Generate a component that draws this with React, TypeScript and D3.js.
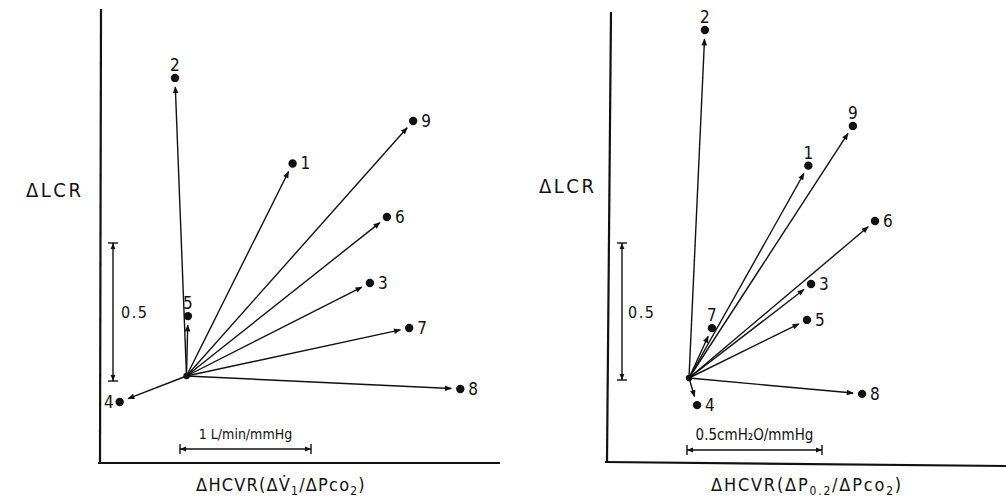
import React from "react";
import * as d3 from "d3";

// ---- Data ----
const subjects = ["1", "2", "3", "4", "5", "6", "7", "8", "9"];
// Left panel: ΔHCVR (ΔV̇1/ΔPco2, L/min/mmHg) vs ΔLCR
const leftHCVR = [0.81, -0.088, 1.4, -0.51, 0.011, 1.53, 1.7, 2.09, 1.73];
const leftLCR = [0.77, 1.08, 0.337, -0.094, 0.217, 0.576, 0.174, -0.047, 0.924];
// Right panel: ΔHCVR (ΔP0.2/ΔPco2, cmH2O/mmHg) vs ΔLCR
const rightHCVR = [0.442, 0.059, 0.452, 0.03, 0.437, 0.689, 0.085, 0.641, 0.607];
const rightLCR = [0.775, 1.27, 0.343, -0.099, 0.212, 0.573, 0.182, -0.058, 0.92];
// where each subject's number sits relative to its dot
const leftLabelSide = ["right", "above", "right", "left", "above", "right", "right", "right", "right"];
const rightLabelSide = ["above", "above", "right", "right", "right", "right", "above", "right", "above"];
// scale bars
const leftScaleX = { value: 1, label: "1 L/min/mmHg" };
const rightScaleX = { value: 0.5, label: "0.5cmH₂O/mmHg" };
const scaleY = { value: 0.5, label: "0.5" };

const FONT = "'DejaVu Sans Condensed', 'Liberation Sans Narrow', 'DejaVu Sans', sans-serif";

type PanelProps = {
  id: string;
  xs: number[];
  ys: number[];
  sides: string[];
  xScale: d3.ScaleLinear<number, number>;
  yScale: d3.ScaleLinear<number, number>;
  axis: { x0: number; y0: number; xTop: number; yTop: number; xEnd: number; yEnd: number };
  vBar: { x: number; bottom: number; labelX: number };
  hBar: { left: number; y: number; value: number; label: string; size: number };
  yLabel: { x: number; y: number };
  xLabel: { x: number; y: number; spacing: number; parts: { t: string; sub?: boolean }[] };
};

function Panel(p: PanelProps) {
  const ox = p.xScale(0);
  const oy = p.yScale(0);
  const gap = 9;
  const vLen = p.yScale(0) - p.yScale(scaleY.value);
  const hLen = p.hBar.value * (p.xScale(1) - p.xScale(0));
  return (
    <g>
      {/* axes */}
      <line x1={p.axis.xTop} y1={p.axis.yTop} x2={p.axis.x0} y2={p.axis.y0} stroke="#111" strokeWidth={2.2} />
      <line x1={p.axis.x0 - 2} y1={p.axis.y0} x2={p.axis.xEnd} y2={p.axis.yEnd} stroke="#111" strokeWidth={2.2} />
      {/* vectors */}
      {subjects.map((s, i) => {
        const px = p.xScale(p.xs[i]);
        const py = p.yScale(p.ys[i]);
        const dx = px - ox;
        const dy = py - oy;
        const len = Math.hypot(dx, dy);
        const ex = ox + (dx * (len - gap)) / len;
        const ey = oy + (dy * (len - gap)) / len;
        const side = p.sides[i];
        let tx = px + 8, ty = py + 6, anchor = "start";
        if (side === "above") { tx = px; ty = py - 7; anchor = "middle"; }
        if (side === "left") { tx = px - 6; ty = py + 6; anchor = "end"; }
        return (
          <g key={s}>
            <line x1={ox} y1={oy} x2={ex} y2={ey} stroke="#111" strokeWidth={1.4} markerEnd={`url(#arr-${p.id})`} />
            <circle cx={px} cy={py} r={4.2} fill="#111" />
            <text x={tx} y={ty} textAnchor={anchor} fontSize={17} fontFamily={FONT} fill="#111">{s}</text>
          </g>
        );
      })}
      <circle cx={ox} cy={oy} r={3.2} fill="#111" />
      {/* vertical scale bar */}
      <g stroke="#111" strokeWidth={1.4}>
        <line x1={p.vBar.x} y1={p.vBar.bottom} x2={p.vBar.x} y2={p.vBar.bottom - vLen}
          markerStart={`url(#sb-${p.id})`} markerEnd={`url(#sb-${p.id})`} />
        <line x1={p.vBar.x - 5} y1={p.vBar.bottom} x2={p.vBar.x + 5} y2={p.vBar.bottom} />
        <line x1={p.vBar.x - 5} y1={p.vBar.bottom - vLen} x2={p.vBar.x + 5} y2={p.vBar.bottom - vLen} />
      </g>
      <text x={p.vBar.labelX} y={(p.vBar.bottom - vLen / 2) + 6} fontSize={16} fontFamily={FONT} letterSpacing={1.5} fill="#111">{scaleY.label}</text>
      {/* horizontal scale bar */}
      <g stroke="#111" strokeWidth={1.4}>
        <line x1={p.hBar.left} y1={p.hBar.y} x2={p.hBar.left + hLen} y2={p.hBar.y}
          markerStart={`url(#sb-${p.id})`} markerEnd={`url(#sb-${p.id})`} />
        <line x1={p.hBar.left} y1={p.hBar.y - 5} x2={p.hBar.left} y2={p.hBar.y + 5} />
        <line x1={p.hBar.left + hLen} y1={p.hBar.y - 5} x2={p.hBar.left + hLen} y2={p.hBar.y + 5} />
      </g>
      <text x={p.hBar.left + hLen / 2} y={p.hBar.y - 10} textAnchor="middle" fontSize={p.hBar.size} fontFamily={FONT} fill="#111">{p.hBar.label}</text>
      {/* axis labels */}
      <text x={p.yLabel.x} y={p.yLabel.y} fontSize={20} letterSpacing={2.5} fontFamily={FONT} fill="#111">ΔLCR</text>
      <text x={p.xLabel.x} y={p.xLabel.y} textAnchor="middle" fontSize={18} letterSpacing={p.xLabel.spacing} fontFamily={FONT} fill="#111">
        {p.xLabel.parts.map((pt, k) =>
          pt.sub ? (
            <tspan key={k} fontSize={12} dy={4}>{pt.t}</tspan>
          ) : (
            <tspan key={k} dy={k > 0 && p.xLabel.parts[k - 1].sub ? -4 : 0}>{pt.t}</tspan>
          )
        )}
      </text>
    </g>
  );
}

export default function App() {
  const lx = d3.scaleLinear().domain([0, 1]).range([186.5, 317.5]);
  const ly = d3.scaleLinear().domain([0, 1]).range([376, 100]);
  const rx = d3.scaleLinear().domain([0, 1]).range([689, 959]);
  const ry = d3.scaleLinear().domain([0, 1]).range([378, 104]);
  return (
    <svg width={1006} height={499} style={{ position: "absolute", left: 0, top: 0, background: "#fff" }}>
      <defs>
        {["L", "R"].map((id) => (
          <React.Fragment key={id}>
            <marker id={`arr-${id}`} viewBox="0 0 10 10" refX={9} refY={5} markerWidth={8} markerHeight={7}
              markerUnits="userSpaceOnUse" orient="auto">
              <path d="M0,1 L10,5 L0,9 Z" fill="#111" />
            </marker>
            <marker id={`sb-${id}`} viewBox="0 0 10 10" refX={10} refY={5} markerWidth={6} markerHeight={6}
              markerUnits="userSpaceOnUse" orient="auto-start-reverse">
              <path d="M0,1 L10,5 L0,9 Z" fill="#111" />
            </marker>
          </React.Fragment>
        ))}
      </defs>
      <rect width={1006} height={499} fill="#fff" />
      <Panel
        id="L" xs={leftHCVR} ys={leftLCR} sides={leftLabelSide} xScale={lx} yScale={ly}
        axis={{ xTop: 101, yTop: 9, x0: 100, y0: 463, xEnd: 500, yEnd: 463 }}
        vBar={{ x: 113, bottom: 381, labelX: 121 }}
        hBar={{ left: 180, y: 449, value: leftScaleX.value, label: leftScaleX.label, size: 14 }}
        yLabel={{ x: 26, y: 197 }}
        xLabel={{ x: 281, y: 491, spacing: 1.2, parts: [{ t: "ΔHCVR(ΔV̇" }, { t: "1", sub: true }, { t: "/ΔPco" }, { t: "2", sub: true }, { t: ")" }] }}
      />
      <Panel
        id="R" xs={rightHCVR} ys={rightLCR} sides={rightLabelSide} xScale={rx} yScale={ry}
        axis={{ xTop: 611, yTop: 12, x0: 607, y0: 462, xEnd: 1006, yEnd: 466 }}
        vBar={{ x: 622, bottom: 380, labelX: 628 }}
        hBar={{ left: 687, y: 450, value: rightScaleX.value, label: rightScaleX.label, size: 15 }}
        yLabel={{ x: 539, y: 193 }}
        xLabel={{ x: 807, y: 491, spacing: 1.8, parts: [{ t: "ΔHCVR(ΔP" }, { t: "0.2", sub: true }, { t: "/ΔPco" }, { t: "2", sub: true }, { t: ")" }] }}
      />
    </svg>
  );
}
